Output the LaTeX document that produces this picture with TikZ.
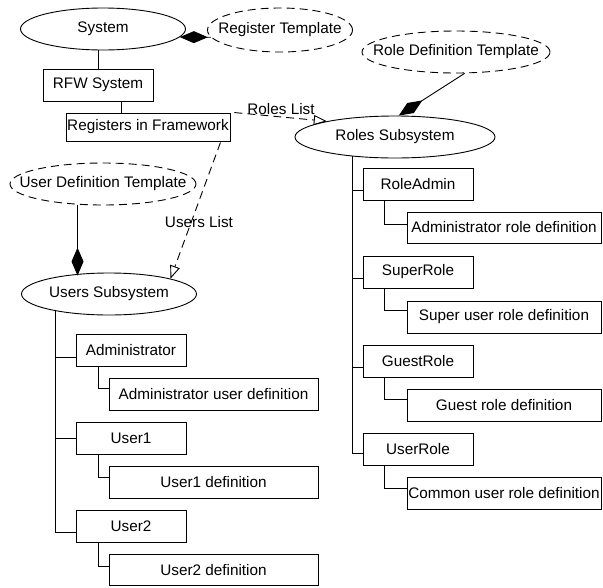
\documentclass[tikz,border=0pt]{standalone}
\usepackage{fontspec}
\setmainfont{Liberation Sans}
\usetikzlibrary{shapes.geometric,arrows.meta,calc}
\begin{document}
\begin{tikzpicture}[x=1pt,y=-1pt,
  every node/.style={font=\fontsize{15.3}{18}\selectfont},
  line width=0.9pt,
  box/.style={draw, rectangle, inner sep=0pt, minimum height=32pt},
  sbox/.style={box, minimum width=110pt},
  dbox/.style={box, minimum width=194pt},
  ubox/.style={box, minimum width=209pt},
  ell/.style={draw, ellipse, inner sep=0pt, minimum height=42pt},
  dsh/.style={dash pattern=on 8pt off 5pt},
  dell/.style={ell, dsh},
  comp/.style={-{Diamond[length=28pt,width=12pt]}},
  real/.style={-{Triangle[open,length=13pt,width=10pt]}}]
\useasboundingbox (0,0) rectangle (603,587);

% ellipses
\node[ell, minimum width=165pt] (sys) at (103,29) {\makebox[0pt]{System}};
\node[dell, minimum width=145pt, minimum height=44pt] (regt) at (280,30) {\makebox[0pt]{Register Template}};
\node[dell, minimum width=188pt] (rdt) at (456,52) {\makebox[0pt]{Role Definition Template}};
\node[ell, minimum width=200pt] (roles) at (395,137) {\makebox[0pt]{Roles Subsystem}};
\node[dell, minimum width=186pt] (udt) at (103,184) {\makebox[0pt]{User Definition Template}};
\node[ell, minimum width=175pt] (users) at (109,294) {\makebox[0pt]{Users Subsystem}};

% top boxes
\node[sbox] (rfw) at (98,85) {RFW System};
\node[box, minimum width=164pt, minimum height=28pt] (reg) at (148,127) {Registers in Framework};

% roles side
\node[sbox] (ra) at (418,184.5) {RoleAdmin};
\node[dbox, minimum height=31pt] (ard) at (504,227.5) {Administrator role definition};
\node[sbox] (sr) at (418,272) {SuperRole};
\node[dbox] (srd) at (504,317) {Super user role definition};
\node[sbox] (gr) at (418,361) {GuestRole};
\node[dbox] (grd) at (504,405.5) {Guest role definition};
\node[sbox] (ur) at (418,449) {UserRole};
\node[dbox] (urd) at (504,493) {Common user role definition};

% users side
\node[sbox] (adm) at (131,350) {Administrator};
\node[ubox] (admd) at (213.5,394) {Administrator user definition};
\node[sbox] (u1) at (131,438.5) {User1};
\node[ubox] (u1d) at (213.5,482) {User1 definition};
\node[sbox] (u2) at (131,526.5) {User2};
\node[ubox, minimum height=31pt] (u2d) at (213.5,570) {User2 definition};

% labels
\node (rl) at (281,109) {Roles List};
\node (ul) at (199,222) {Users List};

% top connectors
\draw (sys.south -| rfw.north) -- (rfw.north);
\coordinate (rfwb) at ([xshift=23pt]rfw.south);
\draw (rfwb) -- (rfwb |- reg.north);
\draw[comp] (regt.186) -- (sys.-6);
\draw[comp] (rdt.-68) -- (roles.80);
\coordinate (udtb) at (udt.219);
\coordinate (usrt) at (udtb |- users.north);
\draw[comp] (udtb) -- ([yshift=-3pt]usrt);
\draw[dsh, real] ([xshift=4pt]reg.north east) -- (roles.167);
\draw[dsh, real] ([xshift=-10pt,yshift=-1pt]reg.south east) -- (users.14);

% roles tree
\coordinate (rtt) at (352,156);
\coordinate (raj) at ([yshift=-5.5pt]ra.west);
\coordinate (srj) at ([yshift=-6pt]sr.west);
\coordinate (grj) at ([yshift=-6pt]gr.west);
\coordinate (urj) at ([yshift=-4pt]ur.west);
\draw (rtt) |- (urj);
\draw (rtt |- raj) -- (raj);
\draw (rtt |- srj) -- (srj);
\draw (rtt |- grj) -- (grj);
\draw ([xshift=22pt]ra.south west) |- ([yshift=3.5pt]ard.west);
\draw ([xshift=22pt]sr.south west) |- ([yshift=7pt]srd.west);
\draw ([xshift=22pt]gr.south west) |- ([yshift=6.5pt]grd.west);
\draw ([xshift=22pt]ur.south west) |- ([yshift=5pt]urd.west);

% users tree
\coordinate (utt) at (55,311);
\coordinate (admj) at ([yshift=-7pt]adm.west);
\coordinate (u1j) at (u1.west);
\coordinate (u2j) at ([yshift=-5.5pt]u2.west);
\draw (utt) |- (u2j);
\draw (utt |- admj) -- (admj);
\draw (utt |- u1j) -- (u1j);
\draw ([xshift=23pt]adm.south west) |- ([yshift=6pt]admd.west);
\draw ([xshift=23pt]u1.south west) |- ([yshift=5pt]u1d.west);
\draw ([xshift=23pt]u2.south west) |- ([yshift=3.5pt]u2d.west);
\end{tikzpicture}
\end{document}
